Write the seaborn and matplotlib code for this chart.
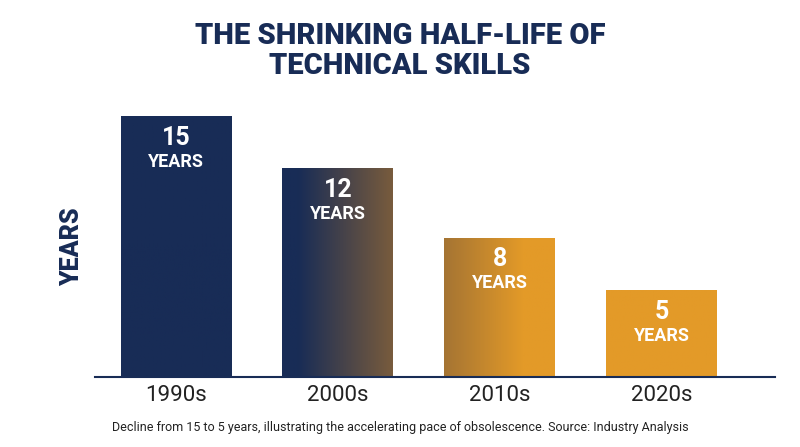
import matplotlib
matplotlib.use("Agg")
import matplotlib.pyplot as plt
import seaborn as sns
import numpy as np
import pandas as pd
from matplotlib.colors import LinearSegmentedColormap

decades = ["1990s", "2000s", "2010s", "2020s"]
years = [15, 12, 8, 5]

navy = "#182c56"
orange = "#e39a28"
sns.set_style("white")
plt.rcParams['font.family'] = ['Roboto', 'DejaVu Sans']

fig = plt.figure(figsize=(8, 4.47), dpi=100)
ax = fig.add_axes([95/800, 1-377/447, 680/800, 261/447])
df = pd.DataFrame({"decade": decades, "years": years})
sns.barplot(data=df, x="decade", y="years", color=navy, width=0.685, ax=ax, saturation=1)
ax.set_xlim(-0.5, 3.7)
ax.set_ylim(0, 15)

cmap = LinearSegmentedColormap.from_list("g", [navy, "#8a6438", orange])
x0, x1 = 0.75, 2.15
for p in ax.patches:
    p.set_facecolor("none")
    p.set_edgecolor("none")
    xs = np.linspace(-0.5, 3.7, 512)
    vals = np.clip((xs - x0) / (x1 - x0), 0, 1).reshape(1, -1)
    im = ax.imshow(vals, cmap=cmap, vmin=0, vmax=1, aspect="auto",
                   extent=[-0.5, 3.7, 0, 15], zorder=1)
    im.set_clip_path(p)

for i, v in enumerate(years):
    ax.text(i, v - 0.55, str(v), ha="center", va="top", color="white",
            fontsize=18, fontweight="bold")
    ax.text(i, v - 2.1, "YEARS", ha="center", va="top", color="white",
            fontsize=13, fontweight="bold")

ax.set_xlabel("")
ax.set_ylabel("YEARS", fontsize=18, fontweight="black", color=navy, labelpad=8)
ax.set_yticks([])
ax.tick_params(axis="x", labelsize=16, colors="#222222", length=0, pad=6)
for s in ["top", "right", "left"]:
    ax.spines[s].set_visible(False)
ax.spines["bottom"].set_color(navy)
ax.spines["bottom"].set_linewidth(1.5)

fig.text(0.5, 1-51/447, "THE SHRINKING HALF-LIFE OF\nTECHNICAL SKILLS", ha="center",
         va="center", fontsize=21, fontweight="black", color=navy, linespacing=1.05)
fig.text(0.5, 1-428/447, "Decline from 15 to 5 years, illustrating the accelerating pace of obsolescence. Source: Industry Analysis",
         ha="center", va="center", fontsize=9, color="#222222")
fig.savefig("out.png", dpi=100)
